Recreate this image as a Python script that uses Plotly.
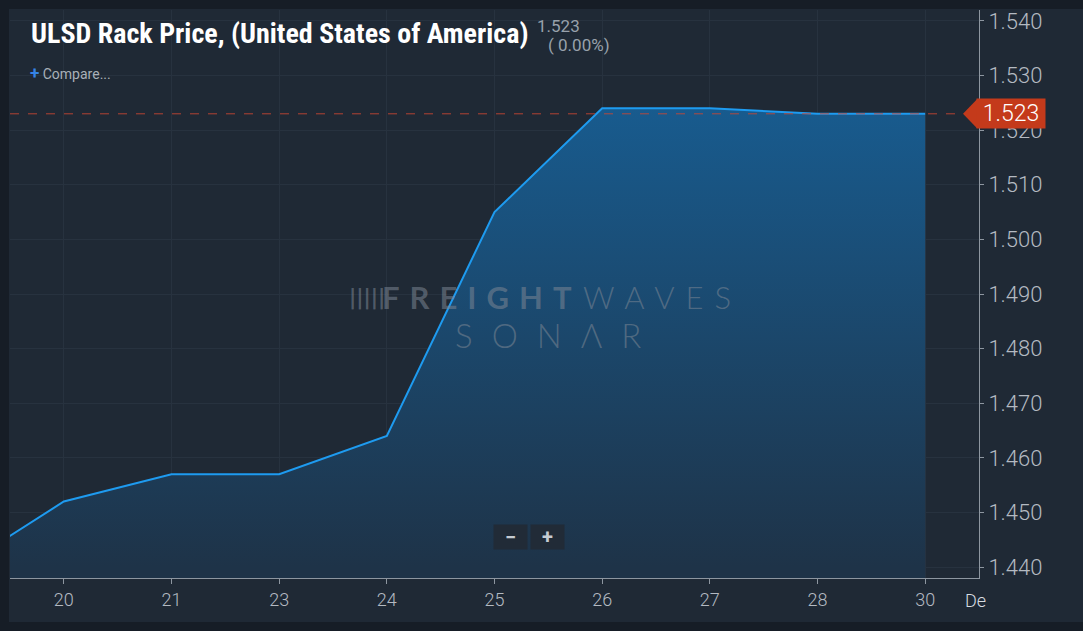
import plotly.graph_objects as go

# ULSD rack price, daily (US)
days = ["17", "20", "21", "23", "24", "25", "26", "27", "28", "30"]
price = [1.4394, 1.452, 1.457, 1.457, 1.464, 1.505, 1.524, 1.524, 1.523, 1.523]
y_ticks = [1.44, 1.45, 1.46, 1.47, 1.48, 1.49, 1.50, 1.51, 1.52, 1.53, 1.54]

title = "ULSD Rack Price, (United States of America)"
last = price[-1]
change = (price[-1] - price[-2]) / price[-2] * 100

W, H = 1083, 631
L, T, R, B = 10, 10, 979, 578  # plot area in pixels


def px(x):
    return (x - L) / (R - L)


def py(y):
    return 1 - (y - T) / (B - T)


PANEL = "#1f2935"
TXT = "#b4bac2"
GRID = "#27323f"
WM = "rgba(125,135,148,0.55)"

fig = go.Figure()
fig.add_trace(go.Scatter(
    x=days, y=price, mode="lines",
    line=dict(color="#1e9bf0", width=2),
    fill="tozeroy",
    fillgradient=dict(type="vertical", start=1.44, stop=1.524,
                      colorscale=[[0, "#1e3348"], [1, "#185b8e"]]),
    hoverinfo="skip",
))

fig.update_layout(
    width=W, height=H,
    margin=dict(l=L, r=W - R, t=T, b=H - B),
    paper_bgcolor="#161d26",
    plot_bgcolor=PANEL,
    showlegend=False,
    font=dict(family="Roboto", color=TXT),
)
fig.update_xaxes(
    type="category", range=[0.5, 9.5],
    showgrid=True, gridcolor=GRID, gridwidth=1,
    showline=True, linecolor="#8d96a0", linewidth=1,
    ticks="outside", ticklen=5, tickcolor="#8d96a0",
    tickfont=dict(size=18, color=TXT, weight=300),
    zeroline=False, fixedrange=True,
)
fig.update_yaxes(
    side="right", range=[1.43799, 1.54201],
    tickvals=y_ticks, tickformat=".3f",
    showgrid=True, gridcolor=GRID, gridwidth=1,
    showline=True, linecolor="#8d96a0", linewidth=1,
    ticks="outside", ticklen=4, tickcolor="#8d96a0",
    tickfont=dict(size=22, color=TXT, weight=300),
    zeroline=False, fixedrange=True,
)

# panel behind the plot
fig.add_shape(type="rect", xref="paper", yref="paper", layer="below",
              x0=px(9), x1=px(1083), y0=py(622), y1=py(9),
              fillcolor=PANEL, line_width=0)
# last value dashed line
fig.add_shape(type="line", xref="paper", yref="y",
              x0=0, x1=px(965), y0=last, y1=last,
              line=dict(color="rgba(205,70,50,0.85)", width=1, dash="dash"))
# red price tag arrow
fig.add_shape(type="path", xref="paper", yref="y",
              xsizemode="pixel", ysizemode="pixel", xanchor=px(977), yanchor=last,
              path="M-14,0 L0,14.5 L0,-14.5 Z",
              fillcolor="#c43a1b", line_width=0)

ann = [
    dict(x=px(29), y=py(33), text="<b>" + title + "</b>",
         font=dict(family="Roboto Condensed, Roboto", size=28, color="#ffffff")),
    dict(x=px(535), y=py(26), text=f"{last:.3f}",
         font=dict(size=17, color="#98a1ab")),
    dict(x=px(546), y=py(45), text=f"( {change:.2f}%)",
         font=dict(size=17, color="#98a1ab")),
    dict(x=px(28), y=py(73),
         text="<span style='color:#3583e6;font-size:17px'><b>+</b></span> Compare...",
         font=dict(size=14, color="#a8b0b8")),
    dict(x=px(976), y=last, yref="y", text=f"{last:.3f}",
         bgcolor="#c43a1b", width=64, height=25, borderpad=2,
         font=dict(size=23, color="#ffffff", weight=300)),
    dict(x=px(963), y=py(601), text="De",
         font=dict(size=18, color="#d8dde2", weight=300)),
    # watermark
    dict(x=px(347), y=py(297), text="<b>|||||</b>",
         font=dict(family="DejaVu Sans Condensed", size=22, color=WM)),
    dict(x=px(380), y=py(297),
         text="<span style='letter-spacing:10px'><b>FREIGHT</b></span>",
         font=dict(family="Lato, Roboto", size=31, color=WM, weight=900)),
    dict(x=px(581), y=py(297),
         text="<span style='letter-spacing:11px'>WAVES</span>",
         font=dict(family="Lato, Roboto", size=31, color=WM, weight=300)),
    dict(x=px(453), y=py(335),
         text="<span style='letter-spacing:19px'>SONΛR</span>",
         font=dict(family="Lato, Roboto", size=33, color=WM, weight=300)),
    # zoom buttons
    dict(x=px(493), y=py(537), text="<b>−</b>", bgcolor="#212b37",
         width=31, height=22, font=dict(size=20, color="#c5cbd2")),
    dict(x=px(530), y=py(537), text="<b>+</b>", bgcolor="#212b37",
         width=31, height=22, font=dict(size=20, color="#c5cbd2")),
]
for a in ann:
    a.setdefault("xref", "paper")
    a.setdefault("yref", "paper")
    a.setdefault("xanchor", "left")
    a.setdefault("yanchor", "middle")
    a.setdefault("showarrow", False)
    fig.add_annotation(**a)

fig.write_html("out.html", config={"displayModeBar": False},
               post_script="document.body.style.margin='0';"
                           "document.body.style.background='#161d26';")
